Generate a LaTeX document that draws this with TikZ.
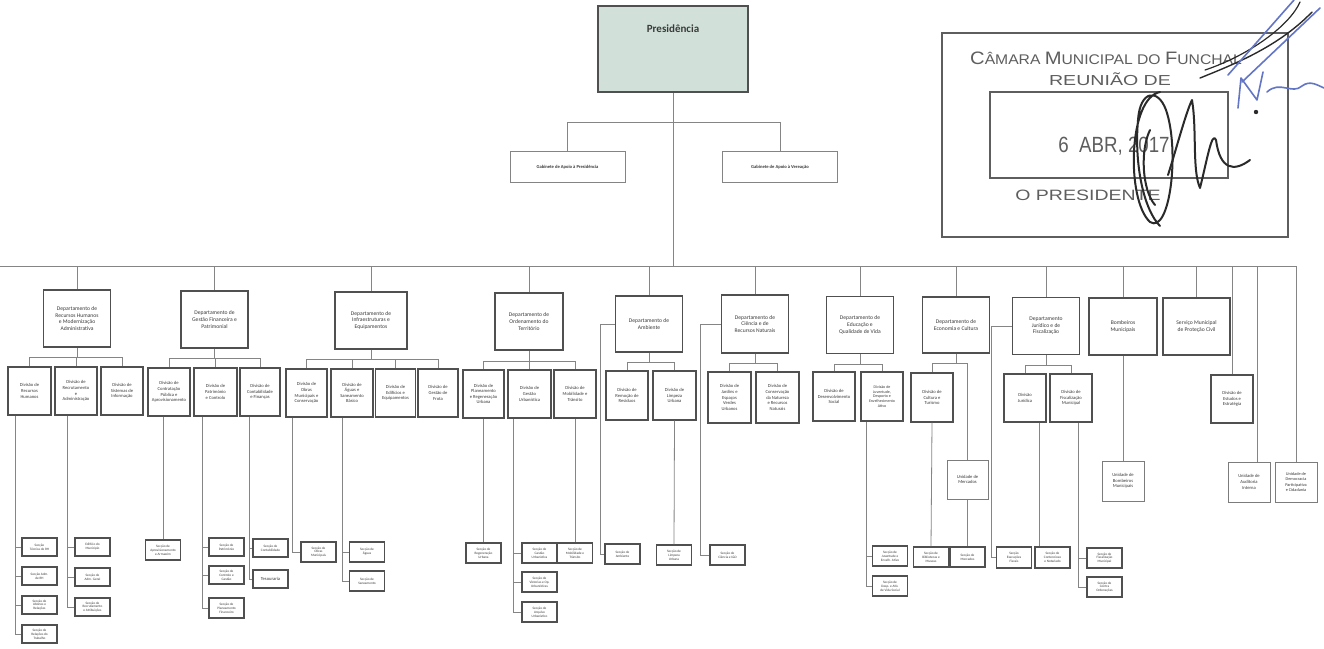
\documentclass[tikz,border=0pt]{standalone}
\usepackage{fontspec}
\setmainfont{Carlito}
\newfontfamily\stampfont{Liberation Sans}
\definecolor{linec}{HTML}{858585}
\definecolor{boxc}{HTML}{505050}
\definecolor{txtc}{HTML}{3A3A3A}
\definecolor{presfill}{HTML}{D1E1DA}
\definecolor{stampc}{HTML}{5E5E5E}
\definecolor{inkdark}{HTML}{2A2A2A}
\definecolor{inkblue}{HTML}{6275C6}
\begin{document}
\begin{tikzpicture}[x=1pt,y=-1pt,
  box/.style={draw=boxc, line width=1pt, fill=white, align=center, text=txtc, inner sep=0.5pt},
  dept/.style={box, line width=1.3pt, minimum width=67pt, minimum height=57pt, font=\fontsize{5.6}{6.6}\selectfont},
  divb/.style={box, line width=1.2pt, minimum width=42pt, minimum height=48pt, font=\fontsize{4.6}{5.6}\selectfont},
  unitb/.style={box, line width=1pt, draw=boxc!75, minimum width=42pt, minimum height=39pt, font=\fontsize{4.6}{5.6}\selectfont},
  secb/.style={box, line width=1.3pt, minimum width=35pt, minimum height=18pt, font=\fontsize{3.4}{3.9}\selectfont},
  gabb/.style={box, line width=0.9pt, draw=boxc!70, minimum width=115pt, minimum height=31pt, font=\fontsize{4.6}{5.6}\selectfont\bfseries},
  conn/.style={draw=linec, line width=0.8pt},
  stamptext/.style={text=stampc, inner sep=0pt, font=\stampfont},
  ink/.style={draw=inkdark, line width=2pt, line cap=round, line join=round},
  bink/.style={draw=inkblue, line width=1.6pt, line cap=round, line join=round}]
\useasboundingbox (0,0) rectangle (1324,648);
\fill[white] (0,0) rectangle (1324,648);

% ---------- top ----------
\node[box, line width=1.8pt, draw=boxc, fill=presfill, minimum width=150pt, minimum height=86pt] (pres) at (673,49) {};
\node[text=txtc, font=\fontsize{11}{13}\selectfont\bfseries, inner sep=0pt] (prest) at (673,29) {Presidência};
\node[gabb] (gab1) at (567.5,167) {Gabinete de Apoio à Presidência};
\node[gabb] (gab2) at (780,167) {Gabinete de Apoio à Vereação};
\coordinate (gbus) at (0,122);
\coordinate (bus) at (0,266);
\coordinate (busL) at (0,266);
\coordinate (busR) at (1296,266);
\draw[conn] (gab1.north) |- (gab2.north |- gbus) -- (gab2.north);
\draw[conn] (pres.south) -- (pres.south |- bus);
\draw[conn] (busL) -- (busR);

% ---------- departments ----------
\node[dept] (dRH) at (77,318.5) {Departamento de\\Recursos Humanos\\e Modernização\\Administrativa};
\node[dept] (dGF) at (214.5,319.5) {Departamento de\\Gestão Financeira e\\Patrimonial};
\node[dept, minimum width=72pt] (dIE) at (371,320.5) {Departamento de\\Infraestruturas e\\Equipamentos};
\node[dept, minimum width=68pt] (dOT) at (529,321.5) {Departamento de\\Ordenamento do\\Território};
\node[dept, minimum height=56pt] (dAmb) at (649,324) {Departamento de\\Ambiente};
\node[dept, minimum height=58pt] (dCRN) at (755,324) {Departamento de\\Ciência e de\\Recursos Naturais};
\node[dept] (dEQV) at (860,325) {Departamento de\\Educação e\\Qualidade de Vida};
\node[dept, minimum height=56pt] (dEC) at (956,325) {Departamento de\\Economia e Cultura};
\node[dept] (dJF) at (1046,326) {Departamento\\Jurídico e de\\Fiscalização};
\node[dept, minimum width=68pt] (bomb) at (1123,326.5) {Bombeiros\\Municipais};
\node[dept] (spc) at (1196.5,326.5) {Serviço Municipal\\de Proteção Civil};
\foreach \d in {dRH,dGF,dIE,dOT,dAmb,dCRN,dEQV,dEC,dJF,bomb,spc}
  \draw[conn] (\d.north |- bus) -- (\d.north);

% ---------- divisions ----------
% RH
\node[divb, minimum width=43pt] (divRH) at (29.5,391) {Divisão de\\Recursos\\Humanos};
\node[divb] (divRA) at (76,391) {Divisão de\\Recrutamento\\e\\Administração};
\node[divb] (divSI) at (122,391) {Divisão de\\Sistemas de\\Informação};
\coordinate (sbRH) at (0,357);
\draw[conn] (dRH.south) -- (dRH.south |- sbRH);
\draw[conn] (divRH.north) |- (divSI.north |- sbRH) -- (divSI.north);
\draw[conn] (divRA.north |- sbRH) -- (divRA.north);
% GF
\node[divb] (divCPA) at (169,392) {Divisão de\\Contratação\\Pública e\\Aprovisionamento};
\node[divb, minimum width=43pt] (divPC) at (215.5,392) {Divisão de\\Património\\e Controlo};
\node[divb, minimum width=40pt] (divCF) at (260,392) {Divisão de\\Contabilidade\\e Finanças};
\coordinate (sbGF) at (0,358);
\draw[conn] (dGF.south) -- (dGF.south |- sbGF);
\draw[conn] (divCPA.north) |- (divCF.north |- sbGF) -- (divCF.north);
\draw[conn] (divPC.north |- sbGF) -- (divPC.north);
% IE
\node[divb, minimum width=41pt] (divOMC) at (306.5,393) {Divisão de\\Obras\\Municipais e\\Conservação};
\node[divb] (divASB) at (352,393) {Divisão de\\Águas e\\Saneamento\\Básico};
\node[divb, minimum width=40pt] (divEE) at (395.5,393) {Divisão de\\Edifícios e\\Equipamentos};
\node[divb, minimum width=40pt] (divGFr) at (438,393) {Divisão de\\Gestão de\\Frota};
\coordinate (sbIE) at (0,359);
\draw[conn] (dIE.south) -- (dIE.south |- sbIE);
\draw[conn] (divOMC.north) |- (divGFr.north |- sbIE) -- (divGFr.north);
\draw[conn] (divASB.north |- sbIE) -- (divASB.north);
\draw[conn] (divEE.north |- sbIE) -- (divEE.north);
% OT
\node[divb, minimum width=41pt] (divPRU) at (483.5,394) {Divisão de\\Planeamento\\e Regeneração\\Urbana};
\node[divb, minimum width=43pt] (divGU) at (529.5,394) {Divisão de\\Gestão\\Urbanística};
\node[divb] (divMT) at (575,394) {Divisão de\\Mobilidade e\\Trânsito};
\coordinate (sbOT) at (0,361);
\draw[conn] (dOT.south) -- (dOT.south |- sbOT);
\draw[conn] (divPRU.north) |- (divMT.north |- sbOT) -- (divMT.north);
\draw[conn] (divGU.north |- sbOT) -- (divGU.north);
% Ambiente
\node[divb, minimum height=49pt] (divRR) at (627,395.5) {Divisão de\\Remoção de\\Resíduos};
\node[divb, minimum width=43pt, minimum height=49pt] (divLU) at (674.5,395.5) {Divisão de\\Limpeza\\Urbana};
\coordinate (sbAmb) at (0,362);
\draw[conn] (dAmb.south) -- (dAmb.south |- sbAmb);
\draw[conn] (divRR.north) |- (divLU.north |- sbAmb) -- (divLU.north);
% Ciência
\node[divb, minimum width=43pt, minimum height=51pt] (divJEV) at (729.5,397.5) {Divisão de\\Jardins e\\Espaços\\Verdes\\Urbanos};
\node[divb, minimum width=43pt, minimum height=51pt] (divCNRN) at (777.5,397.5) {Divisão de\\Conservação\\da Natureza\\e Recursos\\Naturais};
\coordinate (sbCRN) at (0,363);
\draw[conn] (dCRN.south) -- (dCRN.south |- sbCRN);
\draw[conn] (divJEV.north) |- (divCNRN.north |- sbCRN) -- (divCNRN.north);
% Educação
\node[divb, minimum height=49pt] (divDS) at (834,396.5) {Divisão de\\Desenvolvimento\\Social};
\node[divb, minimum height=49pt, font=\fontsize{4}{4.8}\selectfont] (divJDE) at (882,396.5) {Divisão de\\Juventude,\\Desporto e\\Envelhecimento\\Ativo};
\coordinate (sbEQV) at (0,364);
\draw[conn] (dEQV.south) -- (dEQV.south |- sbEQV);
\draw[conn] (divDS.north) |- (divJDE.north |- sbEQV) -- (divJDE.north);
% Economia e Cultura
\node[divb, minimum height=49pt] (divCT) at (932,397.5) {Divisão de\\Cultura e\\Turismo};
\node[unitb, minimum width=41pt] (uMerc) at (967.5,479.5) {Unidade de\\Mercados};
\coordinate (sbEC) at (0,363);
\draw[conn] (dEC.south) -- (dEC.south |- sbEC);
\draw[conn] (divCT.north) |- (uMerc.north |- sbEC) -- (uMerc.north);
% Jurídico
\node[divb] (divJ) at (1025,398) {Divisão\\Jurídica};
\node[divb] (divFM) at (1071,398) {Divisão de\\Fiscalização\\Municipal};
\coordinate (sbJF) at (0,365);
\draw[conn] (dJF.south) -- (dJF.south |- sbJF);
\draw[conn] (divJ.north) |- (divFM.north |- sbJF) -- (divFM.north);
% Bombeiros
\node[unitb, minimum height=40pt] (uBomb) at (1123,481) {Unidade de\\Bombeiros\\Municipais};
\draw[conn] (bomb.south) -- (uBomb.north);
% direct units
\node[divb] (divEst) at (1232,399) {Divisão de\\Estudos e\\Estratégia};
\node[unitb, minimum height=40pt] (uAud) at (1249,482) {Unidade de\\Auditoria\\Interna};
\node[unitb, minimum height=40pt, font=\fontsize{4.3}{5.2}\selectfont] (uDem) at (1296,482) {Unidade de\\Democracia\\Participativa\\e Cidadania};
\draw[conn] (divEst.north |- bus) -- (divEst.north);
\coordinate (audTop) at ([xshift=8pt]uAud.north);
\draw[conn] (audTop |- bus) -- (audTop);
\draw[conn] (uDem.north |- bus) -- (uDem.north);

% ---------- sections ----------
% RH
\node[secb] (sRH1) at (39.5,547) {Secção\\Técnica de RH};
\node[secb] (sRH2) at (39.5,576) {Secção Adm.\\de RH};
\node[secb] (sRH3) at (39.5,605) {Secção de\\Abonos e\\Relações};
\node[secb] (sRH4) at (39.5,634) {Secção de\\Relações do\\Trabalho};
\coordinate (kRH) at ([xshift=-14.5pt]divRH.south);
\draw[conn] (kRH) |- (sRH4.west);
\foreach \s in {sRH1,sRH2,sRH3} \draw[conn] (kRH |- \s.west) -- (\s.west);
\node[secb] (sRA1) at (92.5,547) {Edifício do\\Município};
\node[secb] (sRA2) at (92.5,577) {Secção de\\Adm. Geral};
\node[secb] (sRA3) at (92.5,607) {Secção de\\Recrutamento\\e Atribuições};
\coordinate (kRA) at ([xshift=-9pt]divRA.south);
\draw[conn] (kRA) |- (sRA3.west);
\foreach \s in {sRA1,sRA2} \draw[conn] (kRA |- \s.west) -- (\s.west);
% GF
\node[secb, minimum height=20pt] (sAA) at (163,550) {Secção de\\Aprovisionamento\\e Armazém};
\coordinate (kCPA) at ([xshift=-6pt]divCPA.south);
\draw[conn] (kCPA) -- (sAA.north);
\node[secb] (sPC1) at (226.5,547) {Secção de\\Património};
\node[secb] (sPC2) at (226.5,575) {Secção de\\Controlo e\\Gestão};
\node[secb, minimum height=20pt] (sPC3) at (226.5,608) {Secção de\\Planeamento\\Financeiro};
\coordinate (kPC) at ([xshift=-13.5pt]divPC.south);
\draw[conn] (kPC) |- (sPC3.west);
\foreach \s in {sPC1,sPC2} \draw[conn] (kPC |- \s.west) -- (\s.west);
\node[secb] (sCF1) at (270.5,548) {Secção de\\Contabilidade};
\node[secb, font=\fontsize{4.6}{5}\selectfont] (sCF2) at (270.5,579) {Tesouraria};
\coordinate (kCF) at ([xshift=-11pt]divCF.south);
\draw[conn] (kCF) |- (sCF2.west);
\draw[conn] (kCF |- sCF1.west) -- (sCF1.west);
% IE
\node[secb, minimum height=20pt] (sOM) at (318.5,552) {Secção de\\Obras\\Municipais};
\coordinate (kOM) at ([xshift=-14.5pt]divOMC.south);
\draw[conn] (kOM) |- (sOM.west);
\node[secb, minimum height=20pt] (sAS1) at (367,552) {Secção de\\Águas};
\node[secb, minimum height=20pt] (sAS2) at (367,581) {Secção de\\Saneamento};
\coordinate (kAS) at ([xshift=-10pt]divASB.south);
\draw[conn] (kAS) |- (sAS2.west);
\draw[conn] (kAS |- sAS1.west) -- (sAS1.west);
% OT
\node[secb, minimum height=20pt] (sRU) at (483.5,553) {Secção de\\Regeneração\\Urbana};
\draw[conn] (divPRU.south) -- (sRU.north);
\node[secb, minimum height=20pt] (sGU1) at (539.5,553) {Secção de\\Gestão\\Urbanística};
\node[secb, minimum height=20pt] (sGU2) at (539.5,582) {Secção de\\Vistorias e Op.\\Urbanísticas};
\node[secb, minimum height=20pt] (sGU3) at (539.5,612) {Secção de\\Arquivo\\Urbanístico};
\coordinate (kGU) at ([xshift=-16.5pt]divGU.south);
\draw[conn] (kGU) |- (sGU3.west);
\foreach \s in {sGU1,sGU2} \draw[conn] (kGU |- \s.west) -- (\s.west);
\node[secb, minimum height=20pt] (sMT) at (575,553) {Secção de\\Mobilidade e\\Trânsito};
\draw[conn] (divMT.south) -- (sMT.north);
% Ambiente
\node[secb, minimum height=20pt] (sAmb) at (622.5,554) {Secção de\\Ambiente};
\coordinate (kAmb) at ([xshift=-14pt]dAmb.west);
\draw[conn] (dAmb.west) -- (kAmb) |- (sAmb.west);
\node[secb, minimum height=20pt] (sLU) at (674,555) {Secção de\\Limpeza\\Urbana};
\draw[conn] (divLU.south) -- (sLU.north);
% Ciência
\node[secb, minimum height=20pt] (sCID) at (727.5,555) {Secção de\\Ciência e I\&D};
\coordinate (kCRN) at ([xshift=-20pt]dCRN.west);
\draw[conn] (dCRN.west) -- (kCRN) |- (sCID.west);
% Educação
\node[secb, minimum height=20pt] (sJD1) at (890,556) {Secção de\\Juventude e\\Envelh. Ativo};
\node[secb, minimum height=20pt] (sJD2) at (890,586) {Secção de\\Desp. e Ativ.\\de Vida Social};
\coordinate (kJD) at ([xshift=-16pt]divJDE.south);
\draw[conn] (kJD) |- (sJD2.west);
\draw[conn] (kJD |- sJD1.west) -- (sJD1.west);
% Economia e Cultura
\node[secb, minimum height=20pt] (sBM) at (931,557) {Secção de\\Bibliotecas e\\Museus};
\draw[conn] (divCT.south) -- (sBM.north);
\node[secb, minimum height=20pt] (sMerc) at (967.5,557) {Secção de\\Mercados};
\draw[conn] (uMerc.south) -- (sMerc.north);
% Jurídico
\node[secb, minimum height=21pt] (sEF) at (1014,557.5) {Secção\\Execuções\\Fiscais};
\coordinate (kJF) at ([xshift=-20pt]dJF.west);
\draw[conn] (dJF.west) -- (kJF) |- (sEF.west);
\node[secb, minimum height=21pt] (sCO) at (1052.5,557.5) {Secção de\\Contencioso\\e Notariado};
\coordinate (kJ) at ([xshift=14pt]divJ.south);
\draw[conn] (kJ) -- (kJ |- sCO.north);
\node[secb, minimum height=20pt] (sFM1) at (1104.5,558) {Secção de\\Fiscalização\\Municipal};
\node[secb, minimum height=20pt] (sFM2) at (1104.5,587) {Secção de\\Contra\\Ordenações};
\coordinate (kFM) at ([xshift=7pt]divFM.south);
\draw[conn] (kFM) |- (sFM2.west);
\draw[conn] (kFM |- sFM1.west) -- (sFM1.west);

% ---------- stamp ----------
\draw[stampc, line width=2.6pt] (942,33) rectangle (1288,237);
\draw[stampc, line width=2pt] (990,92) rectangle (1228,178);
\node[stamptext] (st1) at (1106,58) {\scalebox{1.12}[1]{{\fontsize{18}{18}\selectfont C}{\fontsize{14}{14}\selectfont ÂMARA }{\fontsize{18}{18}\selectfont M}{\fontsize{14}{14}\selectfont UNICIPAL DO }{\fontsize{18}{18}\selectfont F}{\fontsize{14}{14}\selectfont UNCHAL}}};
\node[stamptext] (st2) at (1110,79) {\scalebox{1.35}[1]{\fontsize{14.5}{14.5}\selectfont REUNIÃO DE}};
\node[stamptext] (st3) at (1114,146) {\scalebox{0.85}[1]{\fontsize{22}{22}\selectfont 6\ \ ABR, 2017}};
\node[stamptext] (st4) at (1088,195) {\scalebox{1.3}[1]{\fontsize{15}{15}\selectfont O PRESIDENTE}};

% ---------- signature ----------
\draw[ink] (1160,92) .. controls (1128,98) and (1126,200) .. (1150,222)
  .. controls (1170,235) and (1180,150) .. (1166,110)
  .. controls (1158,88) and (1140,90) .. (1138,120)
  .. controls (1134,165) and (1144,210) .. (1160,226);
\draw[ink] (1150,130) .. controls (1140,150) and (1142,190) .. (1155,205);
\draw[ink] (1168,175) .. controls (1176,150) and (1186,112) .. (1192,100)
  .. controls (1197,130) and (1192,170) .. (1200,188)
  .. controls (1207,160) and (1212,130) .. (1216,140)
  .. controls (1220,170) and (1234,172) .. (1250,160);
\draw[ink, line width=1.4pt] (1200,78) .. controls (1240,62) and (1280,45) .. (1312,12);
\draw[ink, line width=1.2pt] (1205,70) .. controls (1250,55) and (1290,25) .. (1300,2);
\fill[inkdark] (1256,112) circle (2.2pt);
\draw[bink] (1228,75) -- (1294,0);
\draw[bink] (1242,82) -- (1320,8);
\draw[bink] (1238,108) -- (1241,78) -- (1257,100) -- (1263,72);
\draw[bink] (1267,92) .. controls (1280,80) and (1292,95) .. (1302,86)
  .. controls (1310,80) and (1317,85) .. (1324,88);
\end{tikzpicture}
\end{document}
